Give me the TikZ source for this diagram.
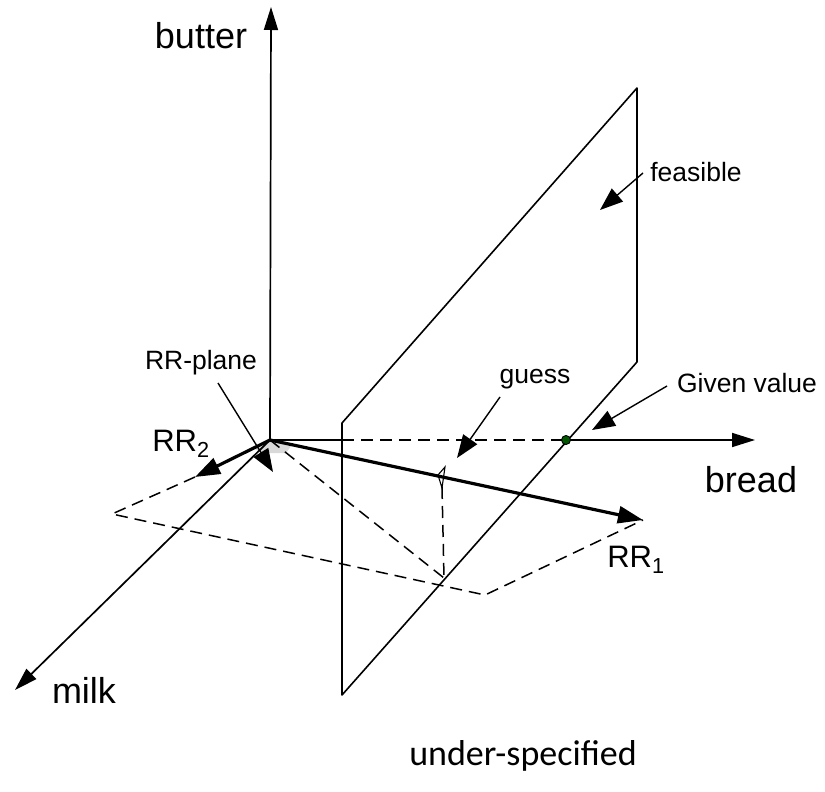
\documentclass[tikz,border=0pt]{standalone}
\usepackage{fontspec}
\setmainfont{Liberation Sans}
\newfontfamily\calib{Carlito}
\usetikzlibrary{arrows.meta}
\begin{document}
\begin{tikzpicture}[x=1pt,y=-1pt,
  axis/.style={line width=1.7pt,-{Triangle[length=23pt,width=14pt]}},
  edge/.style={line width=1.6pt},
  dsh/.style={line width=1.5pt,dash pattern=on 12pt off 7pt},
  bigvec/.style={line width=3.2pt,-{Triangle[length=25pt,width=17pt]}},
  ptr/.style={line width=1.4pt,-{Triangle[length=23pt,width=17pt]}},
  lbl/.style={font=\fontsize{36}{40}\selectfont,inner sep=0pt},
  small/.style={font=\fontsize{26.5}{30}\selectfont,inner sep=0pt},
  rrlbl/.style={font=\fontsize{31}{34}\selectfont,inner sep=0pt},
]
\useasboundingbox (0,0) rectangle (825,792);
% key points
\coordinate (O) at (270,440);
\coordinate (butterTip) at (271,7);
\coordinate (milkTip) at (15,690);
\coordinate (breadTip) at (755,440);
\coordinate (planeCross) at (342,440);
\coordinate (given) at (566,440);
\coordinate (rr1) at (643,520);
\coordinate (rr2) at (195,477);
\coordinate (pl) at (112,514);
\coordinate (pb) at (485,595);
\coordinate (foot) at (444,578);
\coordinate (guessPt) at (442,487);
% feasible plane
\coordinate (fa) at (342,423);
\coordinate (fb) at (637,88);
\coordinate (fc) at (637,362);
\coordinate (fd) at (342,695);
\draw[edge,line join=round] (fa) -- (fb) -- (fc) -- (fd) -- cycle;
% shaded bit of RR-plane
\fill[gray!30] (270,439) -- (253,448) -- (262,453) -- (286,453) -- (291,446) -- cycle;
% RR-plane outline
\draw[dsh] (rr2) -- (pl) -- (pb) -- (rr1);
\draw[dsh] (O) -- (foot);
\draw[dsh] (guessPt) -- (foot);
% axes
\draw[axis] (O) -- (butterTip);
\draw[axis] (O) -- (milkTip);
\draw[edge] (O) -- (planeCross);
\draw[dsh] (planeCross) -- (given);
\draw[axis] (given) -- (breadTip);
% vectors
\draw[bigvec] (O) -- (rr1);
\draw[bigvec] (O) -- (rr2);
% guess marker
\draw[line width=1.1pt] (445,467) -- (438,475) -- (442,488) -- cycle;
% given value dot
\fill[green!35!black] (given) circle (4.5pt);
\draw[line width=0.9pt] (given) circle (4.5pt);
% labels
\node[lbl] (butter) at (201,36) {butter};
\node[lbl] (milk) at (84,690) {milk};
\node[lbl] (bread) at (751,480) {bread};
\node[rrlbl] (lrr1) at (636,560) {RR\textsubscript{1}};
\node[rrlbl] (lrr2) at (181,444) {RR\textsubscript{2}};
\node[small] (rrplane) at (201,363) {RR-plane};
\node[small] (guess) at (535,379) {guess};
\node[small] (givenlbl) at (747,383) {Given value};
\node[small] (feasible) at (696,172) {feasible};
\node[font=\calib\fontsize{36}{40}\selectfont,inner sep=0pt] (under) at (523,756) {under-specified};
% pointers
\coordinate (rrpS) at (218,383);
\coordinate (rrpE) at (273,472);
\coordinate (gsS) at (500,397);
\coordinate (gsE) at (457,458);
\coordinate (gvS) at (667,386);
\coordinate (gvE) at (592,430);
\coordinate (feS) at (643,173);
\coordinate (feE) at (600,210);
\draw[ptr] (rrpS) -- (rrpE);
\draw[ptr] (gsS) -- (gsE);
\draw[ptr] (gvS) -- (gvE);
\draw[ptr] (feS) -- (feE);
\end{tikzpicture}
\end{document}
